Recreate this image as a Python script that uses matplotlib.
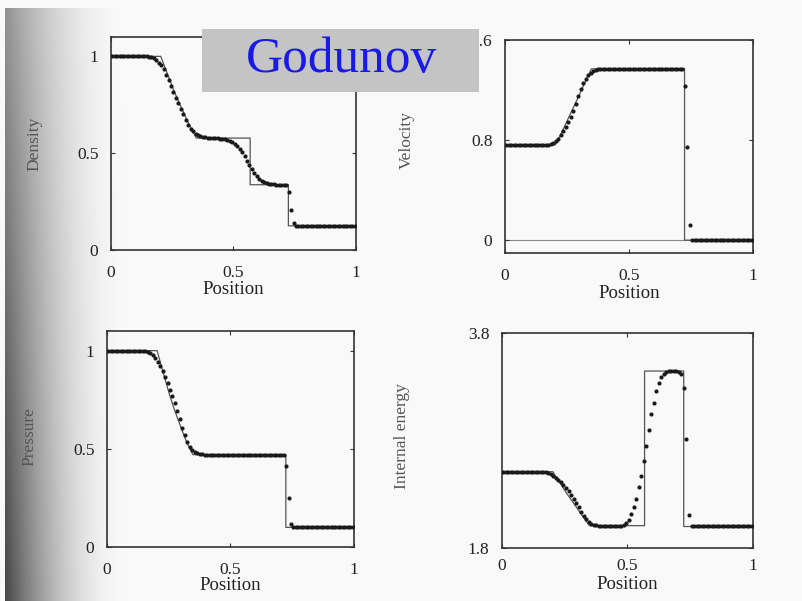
import numpy as np
import matplotlib
matplotlib.use('Agg')
import matplotlib.pyplot as plt
from matplotlib.patches import Rectangle

plt.rcParams['font.family'] = ['Liberation Serif', 'DejaVu Serif']

########################################################
# Data: Godunov scheme, 100 cells, shock tube at t = 0.2
########################################################

# cell centres
x_cells = np.linspace(0.005, 0.995, 100)

density_num = [1.0] * 15 + [
    0.999, 0.996, 0.990, 0.980, 0.968, 0.953, 0.933, 0.905, 0.876, 0.846,
    0.816, 0.787, 0.758, 0.729, 0.700, 0.670, 0.646, 0.627, 0.612, 0.601,
    0.594, 0.589, 0.585, 0.582, 0.580, 0.579, 0.578, 0.577, 0.576, 0.575,
    0.574, 0.572, 0.569, 0.564, 0.557, 0.548, 0.537, 0.522, 0.504, 0.484,
    0.462, 0.440, 0.418, 0.397, 0.380, 0.367, 0.358, 0.351, 0.346, 0.343,
    0.341, 0.339, 0.338, 0.338, 0.337, 0.337, 0.336, 0.300, 0.207, 0.138,
] + [0.125] * 25

velocity_num = [0.76] * 17 + [
    0.762, 0.767, 0.775, 0.790, 0.810, 0.837, 0.868, 0.902, 0.940, 0.982,
    1.030, 1.088, 1.148, 1.203, 1.250, 1.287, 1.314, 1.334, 1.347, 1.356,
    1.362, 1.365,
] + [1.368] * 33 + [1.230, 0.746, 0.120] + [0.0] * 25

pressure_num = [1.0] * 15 + [
    0.998, 0.994, 0.987, 0.976, 0.962, 0.943, 0.920, 0.894, 0.865, 0.834,
    0.801, 0.767, 0.731, 0.693, 0.651, 0.608, 0.568, 0.535, 0.511, 0.496,
    0.486, 0.480, 0.476, 0.473, 0.471,
] + [0.470] * 32 + [0.410, 0.250, 0.115] + [0.100] * 25

energy_num = [2.51] * 17 + [
    2.505, 2.497, 2.486, 2.471, 2.453, 2.432, 2.410, 2.386, 2.358, 2.327,
    2.293, 2.256, 2.217, 2.177, 2.137, 2.098, 2.066, 2.041, 2.025, 2.016,
    2.011,
] + [2.008] * 10 + [
    2.013, 2.028, 2.065, 2.115, 2.183, 2.260, 2.363, 2.469, 2.609, 2.749,
    2.898, 3.044, 3.153, 3.262, 3.339, 3.395, 3.422, 3.436, 3.443, 3.446,
    3.446, 3.443, 3.436, 3.420, 3.290, 2.811, 2.105,
] + [2.0] * 25

# exact Riemann solution (rarefaction fan, contact, shock)
exact_x = [0.0, 0.203, 0.22, 0.24, 0.254, 0.269, 0.284, 0.299, 0.313, 0.328,
           0.348, 0.568, 0.568, 0.724, 0.724, 1.0]
density_exact = [1.0, 1.0, 0.943, 0.878, 0.831, 0.787, 0.744, 0.703, 0.664,
                 0.627, 0.578, 0.578, 0.337, 0.337, 0.125, 0.125]
velocity_exact = [0.76, 0.76, 0.825, 0.905, 0.967, 1.03, 1.092, 1.155, 1.217,
                  1.28, 1.366, 1.368, 1.368, 1.368, 0.0, 0.0]
pressure_exact = [1.0, 1.0, 0.921, 0.833, 0.772, 0.714, 0.661, 0.611, 0.564,
                  0.52, 0.47, 0.47, 0.47, 0.47, 0.1, 0.1]
energy_exact = [2.51, 2.51, 2.442, 2.373, 2.322, 2.271, 2.221, 2.171, 2.122,
                2.074, 2.008, 2.008, 3.446, 3.446, 2.0, 2.0]

########################################################
# Figure with shaded page background
########################################################

W, H = 803, 601
fig = plt.figure(figsize=(W / 100, H / 100), dpi=100)

xx, yy = np.meshgrid(np.arange(W), np.arange(H))
t = np.clip((xx - 5) / 125.0, 0, 1)
dark = (0.40 + 0.30 * yy / H) * (1 - t) ** 2
dark[(xx < 5) | (yy < 8)] = 0
page = np.clip(0.975 - dark, 0, 1)
bg = fig.add_axes([0, 0, 1, 1], zorder=-10)
bg.imshow(page, cmap='gray', vmin=0, vmax=1, extent=[0, W, H, 0], aspect='auto')
bg.axis('off')


def fig_rect(left, top, right, bottom):
    return [left / W, 1 - bottom / H, (right - left) / W, (bottom - top) / H]


def setup(ax, ylim, yticks, yticklabels, ylabel, ylab_xy, xlab_y, xpad=11):
    ax.set_facecolor('none')
    ax.set_xlim(0, 1)
    ax.set_ylim(*ylim)
    ax.set_xticks([0, 0.5, 1])
    ax.set_xticklabels(['0', '0.5', '1'])
    ax.set_yticks(yticks)
    ax.set_yticklabels(yticklabels)
    ax.tick_params(direction='in', top=True, right=True, length=3, width=0.8,
                   labelsize=12.5, colors='#333333', labelcolor='#222222')
    ax.tick_params(axis='x', pad=xpad)
    ax.tick_params(axis='y', pad=9)
    for s in ax.spines.values():
        s.set_color('#333333')
        s.set_linewidth(1.2)
    ax.set_xlabel('Position', fontsize=13.5, color='#222222')
    ax.xaxis.set_label_coords(0.5, xlab_y)
    ax.set_ylabel(ylabel, fontsize=12.5, color='#555555')
    ax.yaxis.set_label_coords(*ylab_xy)


def draw(ax, exact, num):
    ax.plot(exact_x, exact, color='#555555', lw=0.9, zorder=2)
    ax.plot(x_cells, num, 'o', ms=3.0, color='#1a1a1a', mec='none', zorder=3)


ax_rho = fig.add_axes(fig_rect(111, 37, 356, 250))
ax_u = fig.add_axes(fig_rect(505, 39.5, 753, 252.7))
ax_p = fig.add_axes(fig_rect(107, 331, 354, 547))
ax_e = fig.add_axes(fig_rect(502, 333, 753, 548))

setup(ax_rho, (0, 1.1), [0, 0.5, 1], ['0', '0.5', '1'], 'Density', (-0.28, 0.50), -0.146)
setup(ax_u, (-0.1, 1.6), [0, 0.8, 1.6], ['0', '0.8', '1.6'], 'Velocity', (-0.363, 0.53), -0.152)
setup(ax_p, (0, 1.1), [0, 0.5, 1], ['0', '0.5', '1'], 'Pressure', (-0.283, 0.51), -0.139)
setup(ax_e, (1.8, 3.8), [1.8, 3.8], ['1.8', '3.8'], 'Internal energy', (-0.367, 0.52), -0.128,
      xpad=7)

ax_u.axhline(0, color='#888888', lw=0.8, zorder=1)

draw(ax_rho, density_exact, density_num)
draw(ax_u, velocity_exact, velocity_num)
draw(ax_p, pressure_exact, pressure_num)
draw(ax_e, energy_exact, energy_num)

# title banner
fig.add_artist(Rectangle((202 / W, 1 - 92 / H), 277 / W, 63 / H,
                         transform=fig.transFigure, facecolor='#c4c4c4',
                         edgecolor='none', zorder=20))
fig.text(342 / W, 1 - 72 / H, 'Godunov', fontsize=37, color='#1a1ae6',
         ha='center', va='baseline', zorder=21)

fig.savefig('out.png', dpi=100)
